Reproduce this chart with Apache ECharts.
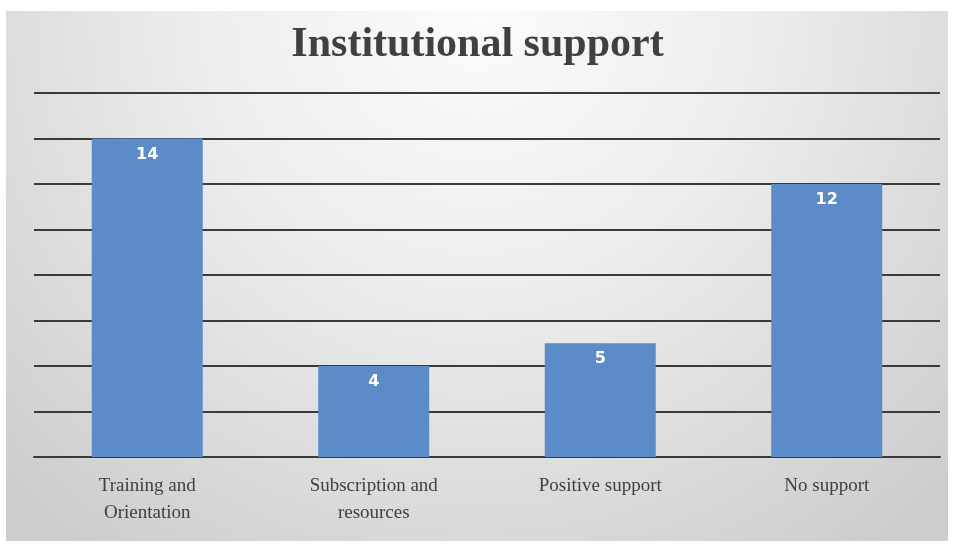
<!DOCTYPE html>
<html>
<head>
<meta charset="utf-8">
<script src="https://cdn.jsdelivr.net/npm/echarts@6/dist/echarts.min.js"></script>
<style>html,body{margin:0;padding:0;background:#fff}#c{width:955px;height:544px}</style>
</head>
<body>
<div id="c"></div>
<script>
var categories = ['Training and\nOrientation', 'Subscription and\nresources', 'Positive support', 'No support'];
var values = [14, 4, 5, 12];
var chartTitle = 'Institutional support';

var chart = echarts.init(document.getElementById('c'));
chart.setOption({
  animation: false,
  backgroundColor: '#ffffff',
  graphic: [{
    type: 'rect', z: -10, silent: true,
    shape: {x: 6, y: 11, width: 942, height: 530},
    style: {
      fill: new echarts.graphic.RadialGradient(0.5, 0.0, 1.25, [
        {offset: 0, color: '#fbfbfb'},
        {offset: 0.4, color: '#eeeeee'},
        {offset: 1, color: '#cdcdcd'}
      ])
    }
  }],
  title: {
    text: chartTitle, left: 'center', top: 19,
    textStyle: {fontFamily: 'Liberation Serif', fontSize: 42, fontWeight: 'bold', color: '#404040'}
  },
  grid: {left: 34, right: 15, top: 93, bottom: 87},
  xAxis: {
    type: 'category', data: categories,
    axisLine: {lineStyle: {color: '#3a3a3a', width: 2}},
    axisTick: {show: false},
    axisLabel: {fontFamily: 'Liberation Serif', fontSize: 19, color: '#404040', margin: 16, lineHeight: 27}
  },
  yAxis: {
    type: 'value', min: 0, max: 16, interval: 2,
    axisLabel: {show: false}, axisLine: {show: false}, axisTick: {show: false},
    splitLine: {lineStyle: {color: '#3a3a3a', width: 2}}
  },
  series: [{
    type: 'bar', data: values, barWidth: '49%',
    itemStyle: {color: '#5b8bc8'},
    label: {show: true, position: 'insideTop', distance: 8, color: '#ffffff', fontWeight: 'bold', fontSize: 16, fontFamily: 'DejaVu Sans'}
  }]
});
</script>
</body>
</html>
